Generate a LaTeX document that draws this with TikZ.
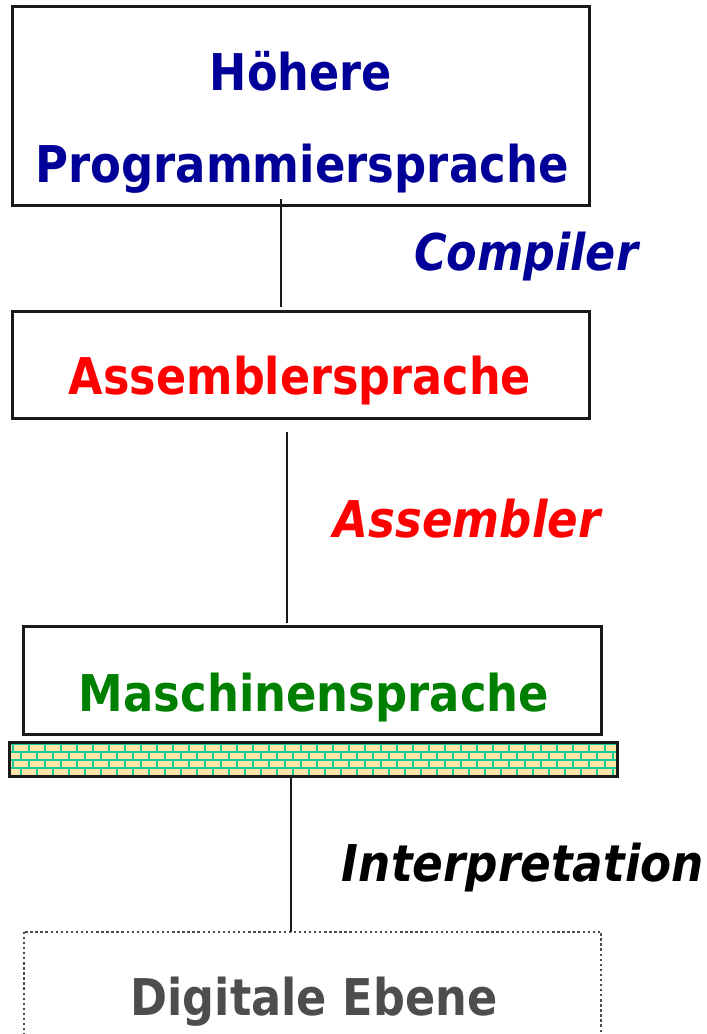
\documentclass[tikz,border=0pt]{standalone}
\usepackage{graphicx}
\usepackage{fontspec}
\setmainfont{DejaVu Sans}
\definecolor{hblue}{RGB}{0,0,153}
\definecolor{hred}{RGB}{255,0,0}
\definecolor{hgreen}{RGB}{0,128,0}
\definecolor{hgray}{RGB}{77,77,77}
\definecolor{mortar}{RGB}{30,200,150}
\definecolor{brick}{RGB}{255,228,168}
\newcommand{\fw}[2]{\resizebox{#1}{\height}{#2}}
\begin{document}
\begin{tikzpicture}[x=0.75pt,y=-0.75pt,
  box/.style={fill=white, inner sep=0pt},
  boxline/.style={draw=black!90, line width=2.2pt},
  conn/.style={draw=black!90, line width=2.2pt},
  lbl/.style={inner sep=0pt, anchor=base, font=\fontsize{38}{44}\selectfont\bfseries},
  ilbl/.style={lbl, font=\fontsize{38}{44}\selectfont\bfseries\itshape}]
\useasboundingbox (0,0) rectangle (706,1034);
\clip (0,0) rectangle (706,1034);
% boxes
\node[box, minimum width=432pt, minimum height=148.5pt] (hl) at (301,106) {};
\node[box, minimum width=432pt, minimum height=79.5pt] (as) at (301,365) {};
\node[box, minimum width=432.75pt, minimum height=80.25pt] (ms) at (312.5,680.5) {};
\node[box, minimum width=432.75pt, minimum height=88.5pt] (de) at (312.5,991) {};
\draw[boxline] (hl.north west) rectangle (hl.south east);
\draw[boxline] (as.north west) rectangle (as.south east);
\draw[boxline] (ms.north west) rectangle (ms.south east);
\draw[draw=hgray, dotted, line width=1.8pt] (de.north west) rectangle (de.south east);
% brick bar
\node[inner sep=0pt, minimum width=455.25pt, minimum height=24.75pt, fill=mortar] (bar) at (313.5,759.5) {};
\begin{scope}
  \clip (10,743) rectangle (617,776);
  \foreach \r in {0,1,2,3} {
    \pgfmathsetmacro{\yo}{745.3+8*\r}
    \pgfmathsetmacro{\xo}{mod(\r,2)*8-2}
    \foreach \k in {0,...,39} {
      \fill[brick] ({\xo+16*\k},\yo) rectangle ({\xo+16*\k+14},{\yo+6});
    }
  }
\end{scope}
\draw[boxline] (bar.north west) rectangle (bar.south east);
% connector coordinates
\coordinate (c1a) at (281,199);
\coordinate (c1b) at (281,307);
\coordinate (c2a) at (287,432);
\coordinate (c2b) at (287,623);
\coordinate (c3a) at (291,776);
\coordinate (c3b) at (291,932);
\draw[conn] (c1a) -- (c1b);
\draw[conn] (c2a) -- (c2b);
\draw[conn] (c3a) -- (c3b);
% texts
\node[lbl, text=hblue] (t1) at (301,91) {\fw{136.5pt}{Höhere}};
\node[lbl, text=hblue] (t2) at (302,183) {\fw{400pt}{Programmiersprache}};
\node[ilbl, text=hblue] (tc) at (526,270) {\fw{168pt}{Compiler}};
\node[lbl, text=hred] (t3) at (300,394) {\fw{346.5pt}{Assemblersprache}};
\node[ilbl, text=hred] (ta) at (467,537) {\fw{200pt}{Assembler}};
\node[lbl, text=hgreen] (t4) at (314,711) {\fw{352.5pt}{Maschinensprache}};
\node[ilbl, text=black] (ti) at (523,881) {\fw{271.5pt}{Interpretation}};
\node[lbl, text=hgray] (t5) at (314,1015) {\fw{275pt}{Digitale Ebene}};
\end{tikzpicture}
\end{document}
